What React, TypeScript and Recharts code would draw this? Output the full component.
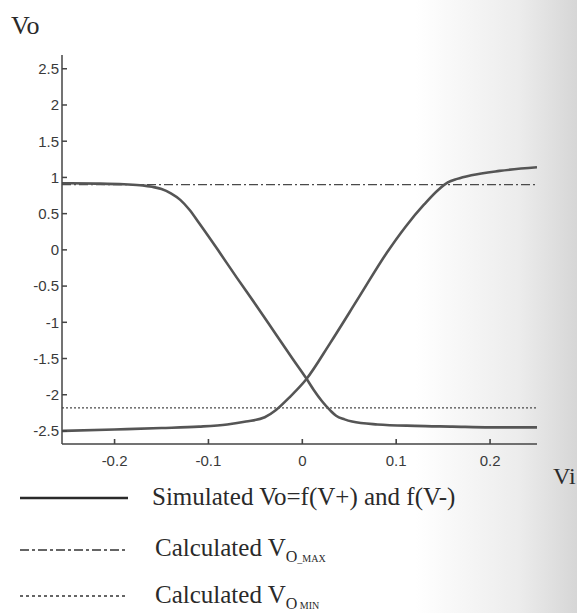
import { LineChart, Line, XAxis, YAxis, ReferenceLine } from "recharts";

// falling transfer curve, Vo = f(V-)
const FALL_X = [-0.256, -0.22, -0.19, -0.17, -0.16, -0.15, -0.14, -0.13, -0.12, -0.11, -0.09, -0.07, -0.05, -0.03, -0.01, 0.004, 0.012, 0.021, 0.03, 0.036, 0.045, 0.053, 0.08, 0.12, 0.16, 0.2, 0.25];
const FALL_VO = [0.92, 0.915, 0.905, 0.89, 0.87, 0.84, 0.78, 0.69, 0.55, 0.37, 0.0, -0.38, -0.75, -1.13, -1.51, -1.77, -1.93, -2.09, -2.22, -2.29, -2.34, -2.37, -2.41, -2.43, -2.44, -2.45, -2.45];

// rising transfer curve, Vo = f(V+)
const RISE_X = [-0.256, -0.2, -0.15, -0.11, -0.08, -0.06, -0.04, -0.028, -0.014, 0.004, 0.03, 0.06, 0.09, 0.11, 0.13, 0.145, 0.155, 0.165, 0.18, 0.21, 0.25];
const RISE_VO = [-2.5, -2.48, -2.46, -2.44, -2.41, -2.37, -2.31, -2.21, -2.04, -1.79, -1.28, -0.66, -0.04, 0.32, 0.63, 0.83, 0.93, 0.98, 1.03, 1.09, 1.14];

const VO_MAX = 0.9;
const VO_MIN = -2.18;

const X_TICKS = [-0.2, -0.1, 0, 0.1, 0.2];
const Y_TICKS = [-2.5, -2, -1.5, -1, -0.5, 0, 0.5, 1, 1.5, 2, 2.5];

const INK = "#4a4a4a";
const FRAME = "#444";

export default function App() {
  const fallData = FALL_X.map((x, i) => ({ x, vo: FALL_VO[i] }));
  const riseData = RISE_X.map((x, i) => ({ x, vo: RISE_VO[i] }));

  const tickStyle = { fontSize: 15, fill: "#3a3a3a", fontFamily: "'Liberation Sans', Arial, sans-serif" };
  const blank = () => "";

  return (
    <div
      style={{
        position: "absolute",
        left: 0,
        top: 0,
        width: 577,
        height: 613,
        overflow: "hidden",
        background: "linear-gradient(to right, #ffffff 0%, #ffffff 72%, #ececec 90%, #d6d6d6 100%)",
        fontFamily: "'Liberation Serif', 'Times New Roman', serif",
        color: "#2a2a2a",
      }}
    >
      <div style={{ position: "absolute", left: 11, top: 11, fontSize: 26 }}>Vo</div>
      <div style={{ position: "absolute", left: 553, top: 463, fontSize: 24 }}>Vi</div>

      <LineChart width={577} height={480} margin={{ top: 55, right: 40, bottom: 6, left: 2 }}>
        <XAxis
          dataKey="x"
          type="number"
          domain={[-0.256, 0.25]}
          ticks={X_TICKS}
          allowDataOverflow
          tick={tickStyle}
          tickSize={-5}
          tickMargin={16}
          height={30}
          stroke={FRAME}
          strokeWidth={1.6}
        />
        <XAxis
          xAxisId="top"
          orientation="top"
          dataKey="x"
          type="number"
          domain={[-0.256, 0.25]}
          ticks={X_TICKS}
          allowDataOverflow
          tickFormatter={blank}
          tickSize={-5}
          height={0}
          stroke={FRAME}
          strokeWidth={1.5}
        />
        <YAxis
          type="number"
          domain={[-2.68, 2.69]}
          ticks={Y_TICKS}
          allowDataOverflow
          tick={tickStyle}
          tickSize={-5}
          tickMargin={8}
          width={60}
          stroke={FRAME}
          strokeWidth={1.5}
        />
        <YAxis
          yAxisId="r"
          orientation="right"
          type="number"
          domain={[-2.68, 2.69]}
          ticks={Y_TICKS}
          allowDataOverflow
          tickFormatter={blank}
          tickSize={-5}
          width={0}
          stroke={FRAME}
          strokeWidth={1.5}
        />
        <ReferenceLine y={VO_MAX} stroke={INK} strokeWidth={1.2} strokeDasharray="9 3 2 3" />
        <ReferenceLine y={VO_MIN} stroke={INK} strokeWidth={1.2} strokeDasharray="2 2" />
        <Line data={fallData} dataKey="vo" type="monotone" stroke="#555" strokeWidth={2.6} dot={false} isAnimationActive={false} />
        <Line data={riseData} dataKey="vo" type="monotone" stroke="#555" strokeWidth={2.6} dot={false} isAnimationActive={false} />
      </LineChart>

      <div style={{ position: "absolute", left: 0, top: 480, width: 577, fontSize: 25, lineHeight: "26px" }}>
        <div style={{ position: "absolute", left: 20, top: 4 }}>
          <svg width={110} height={28}>
            <line x1={0} y1={14} x2={108} y2={14} stroke="#2a2a2a" strokeWidth={2.5} />
          </svg>
        </div>
        <div style={{ position: "absolute", left: 152, top: 4, whiteSpace: "nowrap" }}>Simulated Vo=f(V+) and f(V-)</div>

        <div style={{ position: "absolute", left: 20, top: 56 }}>
          <svg width={110} height={28}>
            <line x1={0} y1={14} x2={108} y2={14} stroke="#333" strokeWidth={1.5} strokeDasharray="9 3 3 3" />
          </svg>
        </div>
        <div style={{ position: "absolute", left: 155, top: 55, whiteSpace: "nowrap" }}>
          Calculated V
          <span style={{ fontSize: 16, position: "relative", top: 6 }}>O</span>
          <span style={{ fontSize: 10, position: "relative", top: 6 }}>_MAX</span>
        </div>

        <div style={{ position: "absolute", left: 20, top: 102 }}>
          <svg width={110} height={28}>
            <line x1={0} y1={14} x2={108} y2={14} stroke="#333" strokeWidth={1.3} strokeDasharray="3 3" />
          </svg>
        </div>
        <div style={{ position: "absolute", left: 155, top: 102, whiteSpace: "nowrap" }}>
          Calculated V
          <span style={{ fontSize: 16, position: "relative", top: 6 }}>O</span>
          <span style={{ fontSize: 10, position: "relative", top: 6 }}> MIN</span>
        </div>
      </div>
    </div>
  );
}
